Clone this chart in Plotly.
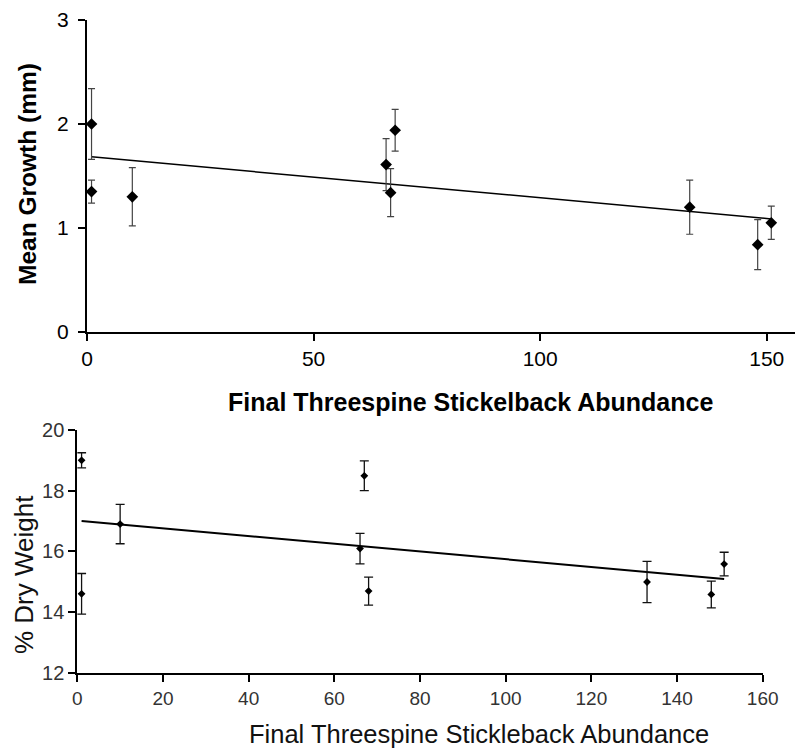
import numpy as np
import plotly.graph_objects as go

# ---- Data ----
growth_abundance = [1, 1, 10, 66, 67, 68, 133, 148, 151]
growth_mean = [2.00, 1.35, 1.30, 1.61, 1.34, 1.94, 1.20, 0.84, 1.05]
growth_err = [0.34, 0.11, 0.28, 0.25, 0.23, 0.20, 0.26, 0.24, 0.16]

dry_abundance = [1, 1, 10, 66, 67, 68, 133, 148, 151]
dry_weight = [19.0, 14.6, 16.9, 16.09, 18.49, 14.69, 14.99, 14.58, 15.58]
dry_err = [0.25, 0.67, 0.65, 0.50, 0.49, 0.46, 0.68, 0.44, 0.39]

top_xticks = [0, 50, 100, 150]
top_yticks = [0, 1, 2, 3]
bot_xticks = [0, 20, 40, 60, 80, 100, 120, 140, 160]
bot_yticks = [12, 14, 16, 18, 20]

# page body has an 8px margin; figure sized to fill the rest of the window
OFF = 8
W, H = 803 - OFF, 750 - OFF
FONT = "Liberation Sans, Arial, sans-serif"


def px(x):
    return (x - OFF) / W


def py(y):
    return 1 - (y - OFF) / H


def fit_line(x, y):
    slope, intercept = np.polyfit(x, y, 1)
    xs = np.array([min(x), max(x)], dtype=float)
    return xs, slope * xs + intercept


fig = go.Figure()

# Top panel
tx, ty = fit_line(growth_abundance, growth_mean)
fig.add_trace(go.Scatter(x=tx, y=ty, mode="lines", line=dict(color="black", width=1.5),
                         xaxis="x", yaxis="y", showlegend=False, hoverinfo="skip"))
fig.add_trace(go.Scatter(
    x=growth_abundance, y=growth_mean, mode="markers",
    marker=dict(symbol="diamond", size=9, color="black"),
    error_y=dict(type="data", array=growth_err, color="#444444", thickness=1.2, width=3.5),
    xaxis="x", yaxis="y", showlegend=False))

# Bottom panel
bx, by = fit_line(dry_abundance, dry_weight)
fig.add_trace(go.Scatter(x=bx, y=by, mode="lines", line=dict(color="black", width=2),
                         xaxis="x2", yaxis="y2", showlegend=False, hoverinfo="skip"))
fig.add_trace(go.Scatter(
    x=dry_abundance, y=dry_weight, mode="markers",
    marker=dict(symbol="diamond", size=6, color="black"),
    error_y=dict(type="data", array=dry_err, color="#111111", thickness=1.3, width=4.5),
    xaxis="x2", yaxis="y2", showlegend=False))

axis_common = dict(showgrid=False, zeroline=False, showline=True, linecolor="black",
                   linewidth=2, ticks="outside", ticklen=7, tickwidth=1.5, tickcolor="black",
                   automargin=False)

fig.update_layout(
    width=W, height=H,
    margin=dict(l=0, r=0, t=0, b=0, autoexpand=False),
    paper_bgcolor="white", plot_bgcolor="white",
    font=dict(family=FONT, color="black"),
    xaxis=dict(domain=[px(87), 1.0], range=[0, 158], tickvals=top_xticks,
               tickfont=dict(size=21, color="black"), anchor="y", **axis_common),
    yaxis=dict(domain=[py(332), py(20)], range=[0, 3], tickvals=top_yticks,
               tickfont=dict(size=21, color="black"), anchor="x",
               ticklabelstandoff=5, **axis_common),
    xaxis2=dict(domain=[px(77.3), px(762.7)], range=[0, 160], tickvals=bot_xticks,
                tickfont=dict(size=19, color="#333333"), anchor="y2", **axis_common),
    yaxis2=dict(domain=[py(672.7), py(430)], range=[12, 20], tickvals=bot_yticks,
                tickfont=dict(size=20, color="#333333"), anchor="x2", **axis_common),
)

ann_common = dict(xref="paper", yref="paper", showarrow=False,
                  xanchor="center", yanchor="middle")
fig.add_annotation(text="<b>Final Threespine Stickelback Abundance</b>",
                   x=px(470), y=py(402), font=dict(size=25, color="black"), **ann_common)
fig.add_annotation(text="<b>Mean Growth (mm)</b>",
                   x=px(27), y=py(174), textangle=-90,
                   font=dict(size=24.5, color="black"), **ann_common)
fig.add_annotation(text="Final Threespine Stickleback Abundance",
                   x=px(478.5), y=py(734), font=dict(size=25.5, color="#111111"), **ann_common)
fig.add_annotation(text="% Dry Weight",
                   x=px(24), y=py(575), textangle=-90,
                   font=dict(size=26, color="#111111"), **ann_common)

fig.write_html("out.html")
